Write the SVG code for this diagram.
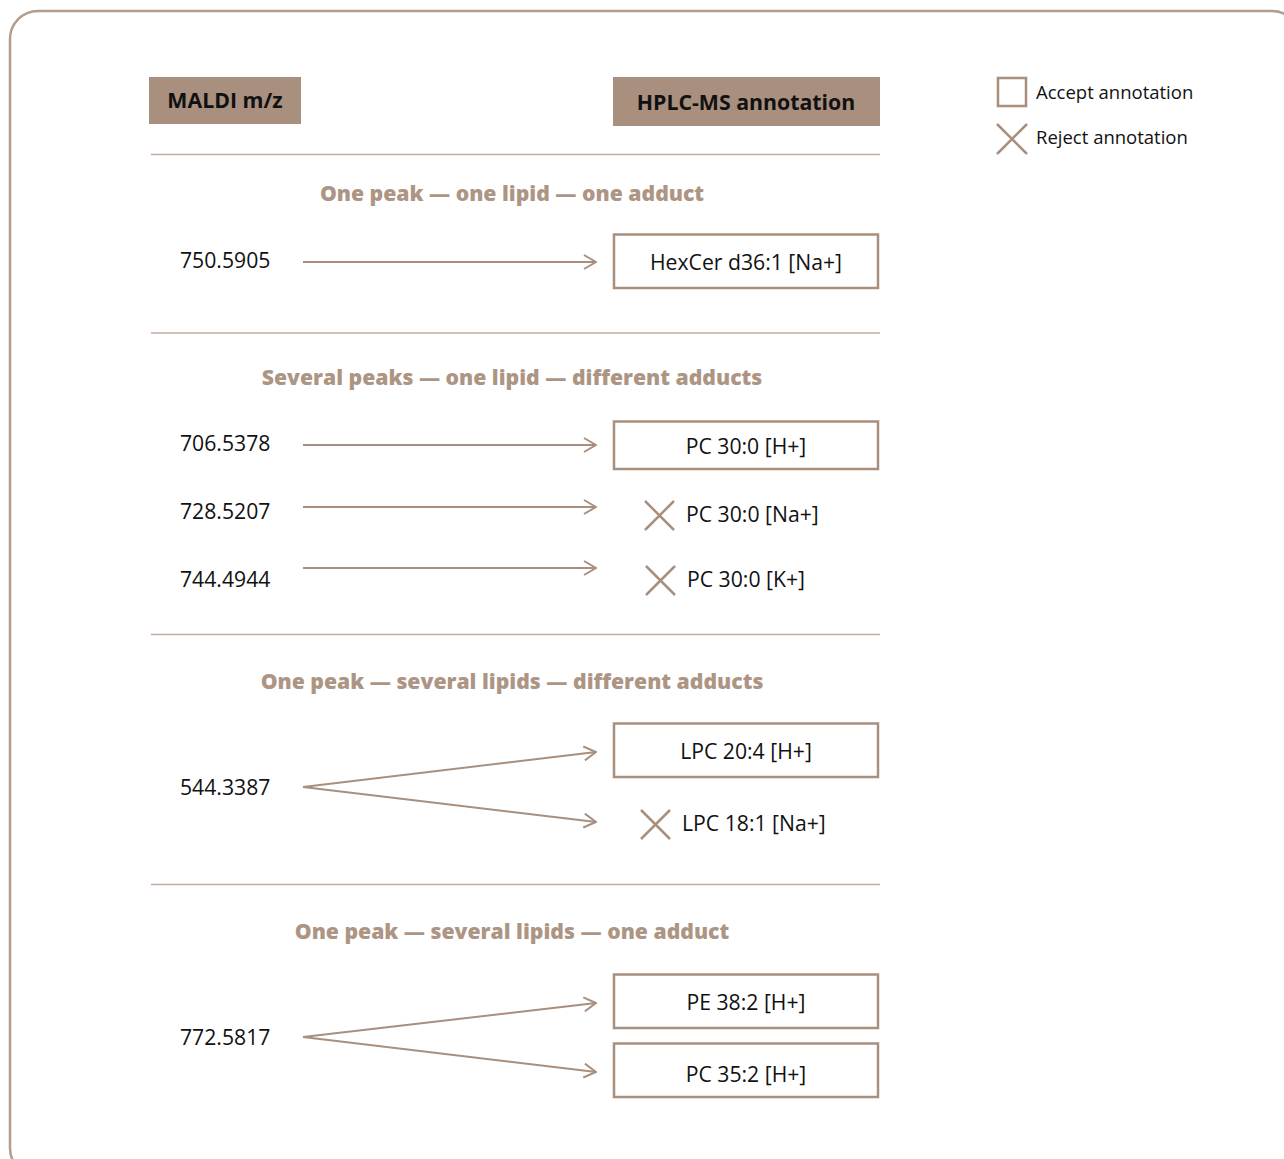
<svg xmlns="http://www.w3.org/2000/svg" width="1284" height="1159" viewBox="0 0 1284 1159">
<defs>
<style>
.frame{fill:#fff;stroke:#b39d8c;stroke-width:2.5}
.hdr{fill:#a88f7e}
.hdrt{font-family:"Open Sans","Noto Sans",sans-serif;font-weight:bold;font-size:21.3px;fill:#111;text-anchor:middle}
.sep{stroke:#c4ab9c;stroke-width:1.5}
.sect{font-family:"Open Sans","Noto Sans",sans-serif;font-weight:800;font-size:21.2px;fill:#ad9584;text-anchor:middle}
.num{font-family:"Open Sans","Noto Sans",sans-serif;font-size:21.2px;fill:#111}
.lab{font-family:"Open Sans","Noto Sans",sans-serif;font-size:21.2px;fill:#111}
.labc{font-family:"Open Sans","Noto Sans",sans-serif;font-size:21.2px;fill:#111;text-anchor:middle}
.box{fill:#fff;stroke:#a88f7e;stroke-width:2.5}
.conn{stroke:#a88f7e;stroke-width:2;fill:none}
.xm{stroke:#a88f7e;stroke-width:2.5;fill:none}
.leg{font-family:"Open Sans","Noto Sans",sans-serif;font-size:18.5px;fill:#111}
</style>
<marker id="ah" viewBox="0 0 14 16" refX="13" refY="8" markerWidth="14" markerHeight="16" markerUnits="userSpaceOnUse" orient="auto">
<path d="M1,1 L13,8 L1,15" fill="none" stroke="#a88f7e" stroke-width="2"/>
</marker>
</defs>
<rect class="frame" x="10" y="11" width="1290" height="1165" rx="28"/>
<g id="hdr-maldi"><rect class="hdr" x="149" y="77" width="152" height="47"/><text class="hdrt" x="225" y="108">MALDI m/z</text></g>
<g id="hdr-hplc"><rect class="hdr" x="613" y="77" width="267" height="49"/><text class="hdrt" x="746" y="110">HPLC-MS annotation</text></g>
<g id="legend">
<rect x="998" y="78" width="28" height="28" fill="none" stroke="#a88f7e" stroke-width="2.5"/>
<text class="leg" x="1036" y="99">Accept annotation</text>
<path class="xm" d="M997,124 L1027,154 M1027,124 L997,154"/>
<text class="leg" x="1036" y="144">Reject annotation</text>
</g>
<g id="separators">
<line class="sep" x1="151" y1="154.5" x2="880" y2="154.5"/>
<line class="sep" x1="151" y1="333" x2="880" y2="333"/>
<line class="sep" x1="151" y1="634.5" x2="880" y2="634.5"/>
<line class="sep" x1="151" y1="884.5" x2="880" y2="884.5"/>
</g>
<g id="titles">
<text class="sect" x="512" y="201">One peak — one lipid — one adduct</text>
<text class="sect" x="512" y="385">Several peaks — one lipid — different adducts</text>
<text class="sect" x="512" y="689">One peak — several lipids — different adducts</text>
<text class="sect" x="512" y="939">One peak — several lipids — one adduct</text>
</g>
<g id="mz-750"><text class="num" x="180" y="268">750.5905</text></g>
<g id="hexcer"><rect class="box" x="614" y="234.5" width="264" height="53.5"/><text class="labc" x="746" y="270">HexCer d36:1 [Na+]</text></g>
<g id="mz-706"><text class="num" x="180" y="451">706.5378</text></g>
<g id="mz-728"><text class="num" x="180" y="519">728.5207</text></g>
<g id="mz-744"><text class="num" x="180" y="587">744.4944</text></g>
<g id="pc30h"><rect class="box" x="614" y="421.5" width="264" height="47.5"/><text class="labc" x="746" y="454">PC 30:0 [H+]</text></g>
<g id="pc30na"><path class="xm" d="M645,501 L674,530 M674,501 L645,530"/><text class="lab" x="686" y="522">PC 30:0 [Na+]</text></g>
<g id="pc30k"><path class="xm" d="M646,566 L675,595 M675,566 L646,595"/><text class="lab" x="687" y="587">PC 30:0 [K+]</text></g>
<g id="mz-544"><text class="num" x="180" y="795">544.3387</text></g>
<g id="lpc204"><rect class="box" x="614" y="723.5" width="264" height="53.5"/><text class="labc" x="746" y="759">LPC 20:4 [H+]</text></g>
<g id="lpc181"><path class="xm" d="M641,810 L670,839 M670,810 L641,839"/><text class="lab" x="682" y="831">LPC 18:1 [Na+]</text></g>
<g id="mz-772"><text class="num" x="180" y="1045">772.5817</text></g>
<g id="pe382"><rect class="box" x="614" y="974.5" width="264" height="53.5"/><text class="labc" x="746" y="1010">PE 38:2 [H+]</text></g>
<g id="pc352"><rect class="box" x="614" y="1043.5" width="264" height="53.5"/><text class="labc" x="746" y="1082">PC 35:2 [H+]</text></g>
<g id="connectors">
<line class="conn" x1="303" y1="262" x2="596" y2="262" marker-end="url(#ah)"/>
<line class="conn" x1="303" y1="445" x2="596" y2="445" marker-end="url(#ah)"/>
<line class="conn" x1="303" y1="507" x2="596" y2="507" marker-end="url(#ah)"/>
<line class="conn" x1="303" y1="568" x2="596" y2="568" marker-end="url(#ah)"/>
<line class="conn" x1="303" y1="787" x2="596" y2="752" marker-end="url(#ah)"/>
<line class="conn" x1="303" y1="787" x2="596" y2="822" marker-end="url(#ah)"/>
<line class="conn" x1="303" y1="1037" x2="596" y2="1003" marker-end="url(#ah)"/>
<line class="conn" x1="303" y1="1037" x2="596" y2="1072" marker-end="url(#ah)"/>
</g>
</svg>
